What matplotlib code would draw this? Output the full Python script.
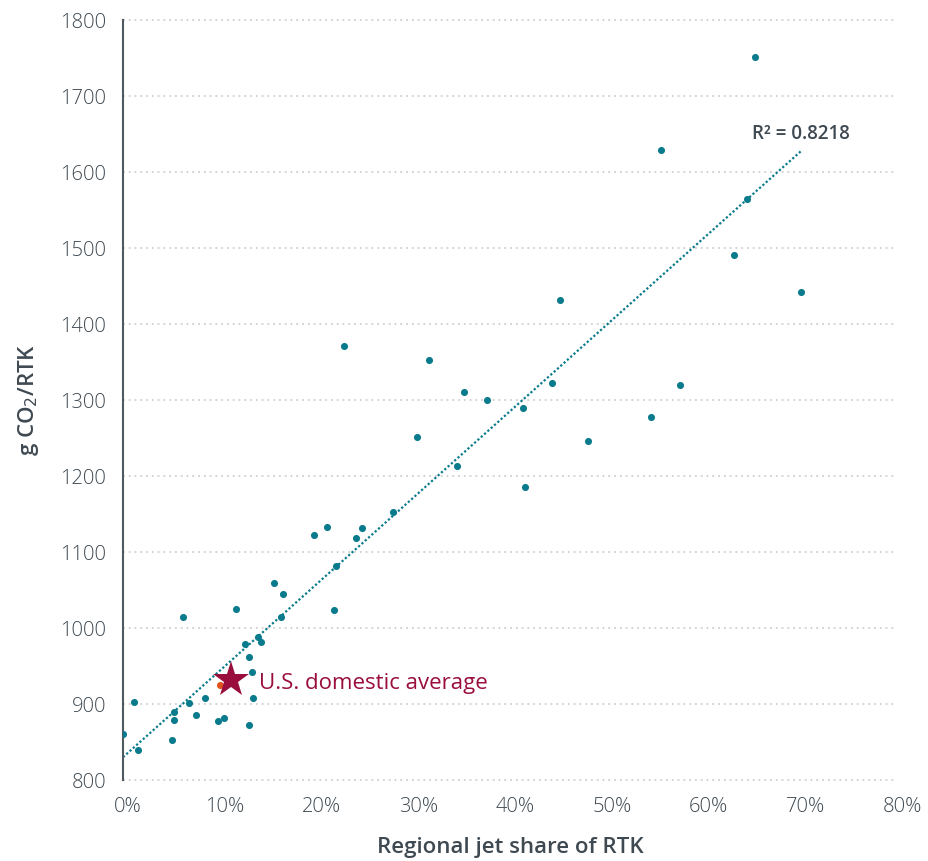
import numpy as np
import matplotlib
matplotlib.use("Agg")
import matplotlib.pyplot as plt
from matplotlib.transforms import ScaledTranslation

# Regional jet share of RTK (fraction) and g CO2/RTK
share = [0.653, 0.556, 0.645, 0.632, 0.701, 0.452, 0.228, 0.316, 0.352, 0.376,
         0.443, 0.576, 0.413, 0.546, 0.304, 0.481, 0.345, 0.416, 0.279, 0.211,
         0.247, 0.197, 0.241, 0.220, 0.156, 0.165, 0.117, 0.218, 0.062, 0.163,
         0.126, 0.140, 0.143, 0.130, 0.133, 0.134, 0.085, 0.068, 0.011, 0.053,
         0.053, 0.075, 0.104, 0.098, 0.130, 0.000, 0.051, 0.0155]
co2 = [1751, 1629, 1565, 1491, 1442, 1431, 1371, 1353, 1310, 1300,
       1322, 1320, 1289, 1277, 1251, 1246, 1213, 1186, 1153, 1133,
       1132, 1122, 1119, 1082, 1059, 1045, 1025, 1024, 1014, 1015,
       979, 988, 982, 962, 942, 908, 908, 901, 903, 890,
       879, 886, 881, 877, 872, 861, 852, 839]

us_avg_share, us_avg_co2 = 0.112, 932
orange_share, orange_co2 = 0.100, 925

# linear trendline as shown in the chart (intercept, slope per unit share)
trend_intercept = 830
trend_slope = 1138
r2_label = "R\u00b2 = 0.8218"
x_ticks = [0, 0.1, 0.2, 0.3, 0.4, 0.5, 0.6, 0.7, 0.8]
y_ticks = list(range(800, 1801, 100))

teal = "#0a7b8c"
crimson = "#9a0e3e"
textc = "#3f4951"

plt.rcParams['font.family'] = ['Open Sans', 'DejaVu Sans']

fig = plt.figure(figsize=(9.29, 8.61), dpi=100)
ax = fig.add_axes([123/929, 1-780/861, (897-123)/929, (780-20)/861])

ax.set_xlim(0, 0.8)
ax.set_ylim(800, 1800)

for y in y_ticks:
    ax.axhline(y, color="#cfcfcf", lw=1.3, ls=(0, (1, 2.2)), zorder=0, clip_on=False)

ax.scatter(share, co2, s=26, color=teal, zorder=3, linewidths=0)

xs = np.array([min(share), max(share)])
ax.plot(xs, trend_intercept + trend_slope * xs, color=teal, lw=1.6, ls=(0, (1, 1)), zorder=2)

ax.scatter([orange_share], [orange_co2], s=26, color="#e0531f", zorder=3, linewidths=0)
ax.plot([us_avg_share], [us_avg_co2], marker="*", markersize=27, color=crimson,
        markeredgewidth=0, zorder=4, clip_on=False)
ax.annotate("U.S. domestic average", xy=(us_avg_share, us_avg_co2), xytext=(20, -3),
            textcoords="offset points", color=crimson, fontsize=16, va="center", ha="left")

ax.text(0.6504, 1637, r2_label, color=textc, fontsize=13.5, fontweight="semibold",
        ha="left", va="bottom")

for s in ["top", "right", "bottom"]:
    ax.spines[s].set_visible(False)
ax.spines["left"].set_color("#4f5960")
ax.spines["left"].set_linewidth(1.5)

ax.set_xticks(x_ticks)
ax.set_xticklabels([f"{int(round(t*100))}%" for t in x_ticks])
ax.set_yticks(y_ticks)
ax.set_yticklabels([str(t) for t in y_ticks])
ax.tick_params(axis="both", length=0, labelsize=14.5, labelcolor=textc)
ax.tick_params(axis="x", pad=12)
ax.tick_params(axis="y", pad=12)
for lab in ax.get_xticklabels() + ax.get_yticklabels():
    lab.set_fontweight("light")
offset = ScaledTranslation(5/100, 0, fig.dpi_scale_trans)
for lab in ax.get_xticklabels():
    lab.set_transform(lab.get_transform() + offset)

ax.set_xlabel("Regional jet share of RTK", fontsize=16, color=textc, fontweight="semibold", labelpad=15)
ax.set_ylabel("g CO$_2$/RTK", fontsize=16, color=textc, fontweight="semibold", labelpad=14)

fig.savefig("out.png", dpi=100)
